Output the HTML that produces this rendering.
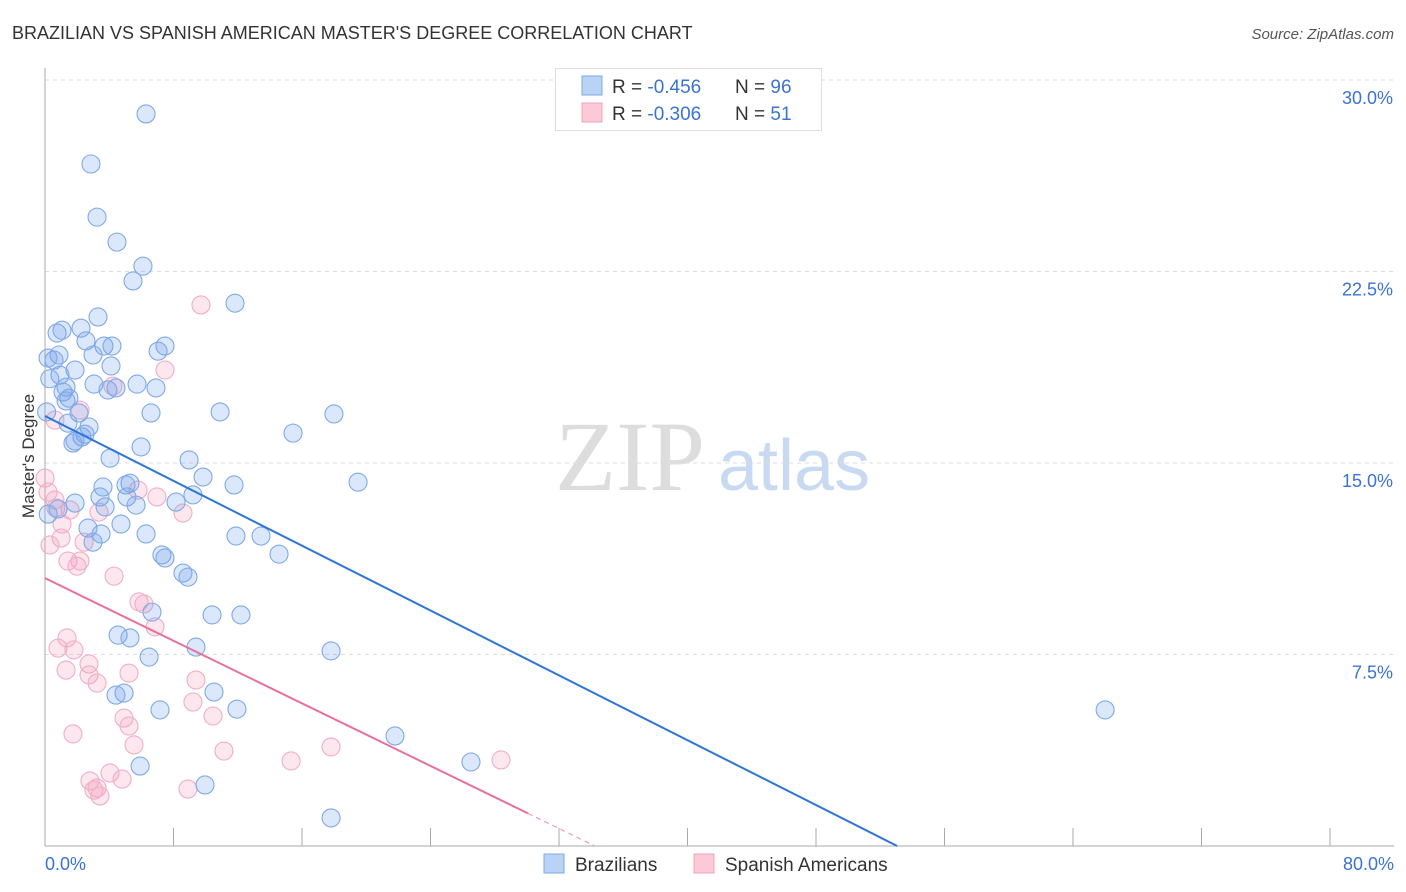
<!DOCTYPE html>
<html><head><meta charset="utf-8"><style>
body{margin:0;background:#fff;font-family:"Liberation Sans",sans-serif;}
svg{display:block}
</style></head><body>
<svg id="chart" width="1406" height="892">
<text x="12" y="39" font-size="18" fill="#333">BRAZILIAN VS SPANISH AMERICAN MASTER'S DEGREE CORRELATION CHART</text>
<text x="1394" y="39" font-size="15" fill="#555" text-anchor="end" font-style="italic">Source: ZipAtlas.com</text>
<text x="555" y="490" font-size="100" fill="#ddd" font-family="Liberation Serif,serif">ZIP</text>
<text x="718" y="490" font-size="72" fill="#c8daf2">atlas</text>
<text transform="translate(34,456) rotate(-90)" font-size="17" fill="#333" text-anchor="middle">Master's Degree</text>
<g id="grid"></g><g id="axes"></g><g id="marks"></g>
<g>
<rect x="555.5" y="68.5" width="266" height="62" fill="#fff" stroke="#ddd"/>
<rect x="582" y="76" width="20" height="19" fill="#b9d3f5" stroke="#7ea9e6"/>
<rect x="582" y="103" width="20" height="19" fill="#fcc9d8" stroke="#f0a3bb"/>
<text x="612" y="93" font-size="19" fill="#333">R = <tspan fill="#3b73d1">-0.456</tspan><tspan x="735">N = </tspan><tspan fill="#3b73d1">96</tspan></text>
<text x="612" y="120" font-size="19" fill="#333">R = <tspan fill="#3b73d1">-0.306</tspan><tspan x="735">N = </tspan><tspan fill="#3b73d1"> 51</tspan></text>
</g>
<g>
<rect x="544" y="854" width="20" height="19" fill="#b9d3f5" stroke="#7ea9e6"/>
<text x="575" y="871" font-size="19" fill="#333">Brazilians</text>
<rect x="694" y="854" width="20" height="19" fill="#fcc9d8" stroke="#f0a3bb"/>
<text x="725" y="871" font-size="19" fill="#333">Spanish Americans</text>
</g>
</svg>
<script>
const xTicks=[0,8,16,24,32,40,48,56,64,72,80];
const yTicks=[7.5,15,22.5,30];
const yTickLabels=["7.5%","15.0%","22.5%","30.0%"];
const blueX=[6.29,2.86,3.24,4.48,6.10,5.48,11.83,3.30,2.24,0.75,1.06,2.55,3.67,4.17,7.47,7.04,0.87,0.56,2.99,0.19,4.11,1.87,0.93,1.31,3.05,5.73,6.91,4.42,3.92,1.12,1.49,1.31,6.60,10.90,17.99,2.12,1.43,2.74,15.44,2.49,2.30,1.87,1.74,5.98,4.05,8.97,9.84,11.77,19.49,3.61,5.29,5.04,3.42,5.10,9.21,8.16,1.87,3.74,5.67,0.81,4.73,2.68,3.49,6.29,11.89,13.45,2.99,14.57,7.28,7.47,8.59,8.90,6.66,10.40,12.20,4.55,5.29,9.40,17.81,6.48,4.92,4.42,10.52,7.16,11.95,66.00,21.79,26.52,5.92,9.96,17.81,0.3,0.2,0.1];
const blueY=[28.67,26.71,24.63,23.65,22.71,22.13,21.26,20.72,20.28,20.09,20.20,19.78,19.58,19.58,19.58,19.38,19.23,19.03,19.23,19.11,18.80,18.64,18.44,17.97,18.09,18.09,17.94,17.94,17.86,17.78,17.54,17.43,16.96,17.00,16.92,16.96,16.56,16.41,16.17,16.13,16.02,15.86,15.78,15.63,15.19,15.12,14.45,14.14,14.25,14.06,14.21,14.14,13.67,13.67,13.75,13.47,13.43,13.28,13.35,13.20,12.61,12.45,12.22,12.22,12.14,12.14,11.90,11.43,11.40,11.28,10.69,10.53,9.16,9.05,9.05,8.26,8.15,7.79,7.64,7.40,5.99,5.91,6.03,5.33,5.36,5.33,4.31,3.29,3.13,2.39,1.10,18.3,13.0,17.0];
const pinkX=[9.71,7.47,4.23,2.18,0.62,0,0.19,5.79,6.97,0.62,0.68,3.36,1.56,8.59,1.06,1.00,0.31,2.43,1.43,2.18,1.99,4.30,5.85,6.16,6.85,1.37,0.81,1.80,2.74,1.31,2.74,5.23,3.24,9.40,9.21,4.92,5.23,10.46,1.74,5.54,11.14,17.81,15.32,28.39,4.05,4.80,2.80,3.24,3.05,3.42,8.90];
const pinkY=[21.19,18.64,18.01,17.07,16.68,14.41,13.86,13.94,13.67,13.55,13.24,13.08,13.16,13.04,12.61,12.06,11.79,11.90,11.16,11.16,10.96,10.57,9.56,9.48,8.58,8.15,7.75,7.68,7.13,6.89,6.70,6.77,6.38,6.50,5.64,5.01,4.70,5.09,4.39,3.96,3.72,3.88,3.33,3.37,2.86,2.62,2.55,2.27,2.19,1.96,2.23];
const blueLine=[16.84,-0.3174];
const pinkLine=[10.49,-0.3064];
const pinkSolidEnd=30.07;
const X=v=>45+v*1285/80, Y=v=>846-v*191.5/7.5;
const NS="http://www.w3.org/2000/svg";
function mk(t,a,p){const e=document.createElementNS(NS,t);for(const k in a)e.setAttribute(k,a[k]);p.appendChild(e);return e;}
const grid=document.getElementById('grid'),axes=document.getElementById('axes'),marks=document.getElementById('marks');
yTicks.forEach((t,i)=>{
 const l=mk('line',{x1:45,x2:1394,y1:Y(t),y2:Y(t),stroke:'#ddd','stroke-dasharray':'4,4'},grid);
 
 
 const tx=mk('text',{x:1393,y:Y(t)+24,'font-size':18,fill:'#3b73d1','text-anchor':'end'},axes);
 tx.textContent=yTickLabels[i];
 
 
});
const ax=mk('line',{x1:45,x2:1394,y1:846,y2:846,stroke:'#aaa'},axes);


const ay=mk('line',{x1:45,x2:45,y1:68,y2:846,stroke:'#aaa'},axes);


xTicks.forEach(t=>{const l=mk('line',{x1:X(t),x2:X(t),y1:828,y2:846,stroke:'#aaa'},axes);
 
 });
[["0.0%",45,'start'],["80.0%",1394,'end']].forEach(d=>{const t=mk('text',{x:d[1],y:870,'font-size':18,fill:'#3b73d1','text-anchor':d[2]},axes);t.textContent=d[0];
 
 });
pinkX.forEach((v,i)=>{const c=mk('circle',{cx:X(v),cy:Y(pinkY[i]),r:9,fill:'rgba(245,160,190,0.25)',stroke:'#f0aec3','stroke-width':1.1},marks);
 
 });
blueX.forEach((v,i)=>{const c=mk('circle',{cx:X(v),cy:Y(blueY[i]),r:9,fill:'rgba(110,160,235,0.25)',stroke:'#7fa9e6','stroke-width':1.1},marks);
 
 });
const bx1=-blueLine[0]/blueLine[1];
const bl=mk('line',{x1:X(0),y1:Y(blueLine[0]),x2:X(bx1),y2:Y(0),stroke:'#2f74d8','stroke-width':2},marks);


const pl=mk('line',{x1:X(0),y1:Y(pinkLine[0]),x2:X(pinkSolidEnd),y2:Y(pinkLine[0]+pinkLine[1]*pinkSolidEnd),stroke:'#e8709a','stroke-width':2},marks);


const px1=-pinkLine[0]/pinkLine[1];
const pd=mk('line',{x1:X(pinkSolidEnd),y1:Y(pinkLine[0]+pinkLine[1]*pinkSolidEnd),x2:X(px1),y2:Y(0),stroke:'#eba0b8','stroke-width':1.2,'stroke-dasharray':'5,4'},marks);


</script>
</body></html>
